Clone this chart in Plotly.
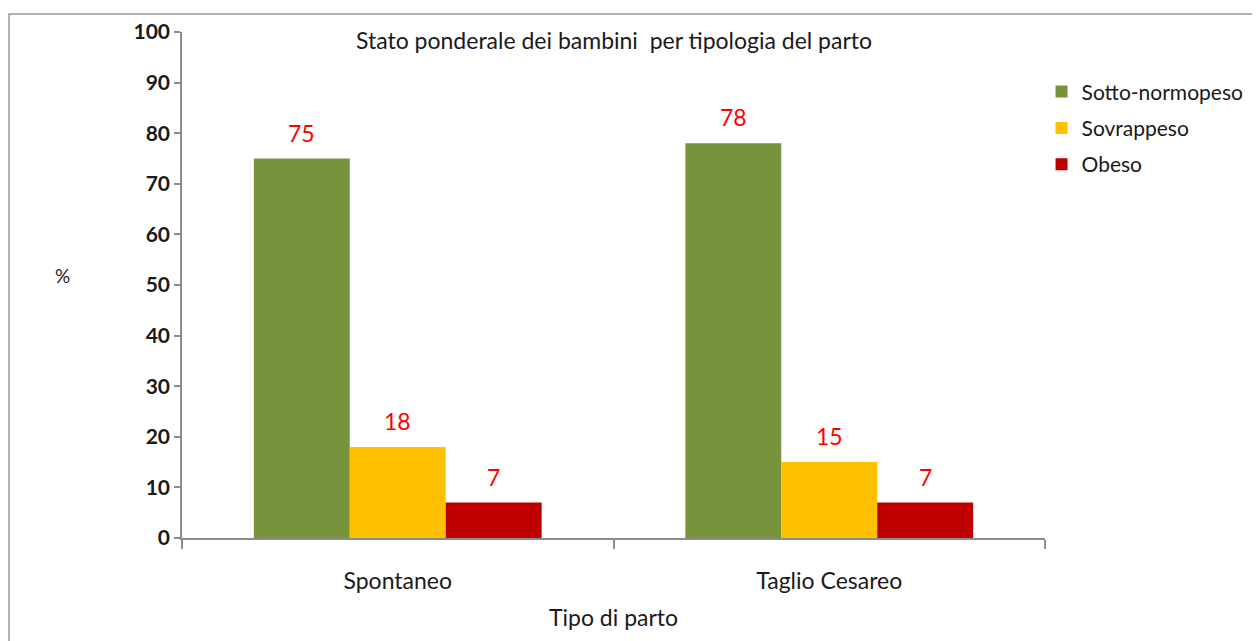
import plotly.graph_objects as go

categories = ["Spontaneo", "Taglio Cesareo"]
series_names = ["Sotto-normopeso", "Sovrappeso", "Obeso"]
sotto_normopeso = [75, 78]
sovrappeso = [18, 15]
obeso = [7, 7]
y_ticks = [0, 10, 20, 30, 40, 50, 60, 70, 80, 90, 100]

colors = ["#77933C", "#FFC000", "#C00000"]
values = [sotto_normopeso, sovrappeso, obeso]
FONT = "Lato, 'Open Sans', sans-serif"
TXT = "#1a1a1a"

fig = go.Figure()
for name, vals, col in zip(series_names, values, colors):
    fig.add_trace(go.Bar(
        name=name, x=categories, y=vals, legendgroup=name,
        marker=dict(color=col, line=dict(width=0)),
    ))

# data labels placed above the bars, offset horizontally per series
bar_w = 96  # approximate pixel width of one bar
for i, vals in enumerate(values):
    for cat, v in zip(categories, vals):
        fig.add_annotation(
            x=cat, y=v, xref="x", yref="y", text=str(v),
            showarrow=False, xshift=(i - 1) * bar_w, yshift=26,
            font=dict(family=FONT, size=23, color="#FF0000"),
        )

fig.add_annotation(x=0.5, y=1.0, xref="paper", yref="paper", yanchor="middle",
                   yshift=-8, showarrow=False,
                   text="Stato ponderale dei bambini  per tipologia del parto",
                   font=dict(family=FONT, size=23, color=TXT))
fig.add_annotation(x=-0.1495, y=0.518, xref="paper", yref="paper", showarrow=False,
                   text="%", font=dict(family=FONT, size=19, color=TXT))
fig.add_annotation(x=0.5, y=0, xref="paper", yref="paper", yanchor="middle",
                   yshift=-79, showarrow=False, text="Tipo di parto",
                   font=dict(family=FONT, size=23, color=TXT))

# outer frame
fig.add_shape(type="rect", xref="paper", yref="paper",
              x0=(9 - 182) / 863, x1=(1275 - 182) / 863,
              y0=(538 - 660) / 506, y1=(538 - 14) / 506,
              line=dict(color="#9a9a9a", width=1.5), layer="below")

fig.update_layout(
    width=1252, height=633,
    margin=dict(l=174, r=215, t=24, b=103, autoexpand=False),
    paper_bgcolor="white", plot_bgcolor="white",
    barmode="group", bargap=0.333, bargroupgap=0,
    font=dict(family=FONT, color=TXT),
    showlegend=True,
    legend=dict(x=0.996, xanchor="left", y=0.922, yanchor="top",
                xref="paper", yref="paper",
                font=dict(family=FONT, size=21, color=TXT),
                itemwidth=30, tracegroupgap=6, bgcolor="rgba(0,0,0,0)"),
)
fig.update_xaxes(
    showline=True, linecolor="#8c8c8c", linewidth=1.5,
    ticks="outside", tickson="boundaries", ticklen=9, tickcolor="#8c8c8c",
    tickwidth=1.5, ticklabelstandoff=22,
    tickfont=dict(family=FONT, size=23, color=TXT),
    showgrid=False, zeroline=False,
)
fig.update_yaxes(
    range=[0, 100], tickvals=y_ticks,
    showline=True, linecolor="#8c8c8c", linewidth=1.5,
    ticks="outside", ticklen=6, tickcolor="#8c8c8c", tickwidth=1.5,
    tickfont=dict(family=FONT, size=21, color=TXT, weight="bold"),
    showgrid=False, zeroline=False,
)

fig.write_html("out.html")
